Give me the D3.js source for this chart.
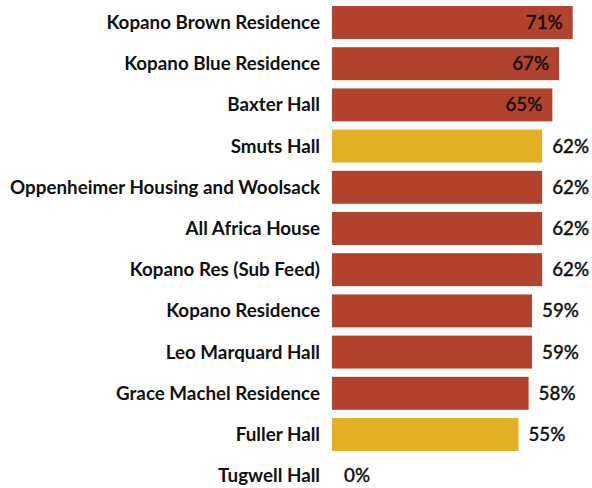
<!DOCTYPE html>
<html><head><meta charset="utf-8">
<script src="https://cdn.jsdelivr.net/npm/d3@7"></script>
<style>body{margin:0;background:#fff}svg{display:block}</style>
</head><body><svg id="c" width="592" height="488"></svg>
<script>
const categories = ["Kopano Brown Residence","Kopano Blue Residence","Baxter Hall","Smuts Hall","Oppenheimer Housing and Woolsack","All Africa House","Kopano Res (Sub Feed)","Kopano Residence","Leo Marquard Hall","Grace Machel Residence","Fuller Hall","Tugwell Hall"];
const values = [71,67,65,62,62,62,62,59,59,58,55,0];
const highlight = [false,false,false,true,false,false,false,false,false,false,true,false];
const insideLabel = [true,true,true,false,false,false,false,false,false,false,false,false];

const svg = d3.select("#c");
const x = d3.scaleLinear().domain([0,100]).range([332,671]);
const y = d3.scaleBand().domain(categories).range([6-4.1, 6-4.1+41.2*12]).paddingInner(0.2).paddingOuter(0.1);

const rows = categories.map((c,i)=>({c, v:values[i], h:highlight[i], inside:insideLabel[i]}));

svg.selectAll("rect.bar").data(rows).join("rect")
  .attr("class","bar")
  .attr("x", x(0))
  .attr("y", d=>y(d.c))
  .attr("width", d=>x(d.v)-x(0))
  .attr("height", y.bandwidth())
  .attr("fill", d=>d.h ? "#E3AF27" : "#B1432E");

svg.selectAll("text.cat").data(rows).join("text")
  .attr("class","cat")
  .attr("x", 320)
  .attr("y", d=>y(d.c)+y.bandwidth()/2)
  .attr("dy","0.35em")
  .attr("text-anchor","end")
  .attr("font-family","Lato")
  .attr("font-weight","bold")
  .attr("font-size",18.8)
  .attr("fill","#111")
  .text(d=>d.c);

svg.selectAll("text.val").data(rows).join("text")
  .attr("class","val")
  .attr("x", d=>d.inside ? x(d.v)-10 : x(d.v)+(d.v===0?12:10))
  .attr("y", d=>y(d.c)+y.bandwidth()/2)
  .attr("dy","0.35em")
  .attr("text-anchor", d=>d.inside ? "end" : "start")
  .attr("font-family","Lato")
  .attr("font-weight",500)
  .attr("font-size",18.8)
  .attr("fill","#111")
  .attr("stroke","#111")
  .attr("stroke-width",0.35)
  .text(d=>d.v+"%");
</script></body></html>
